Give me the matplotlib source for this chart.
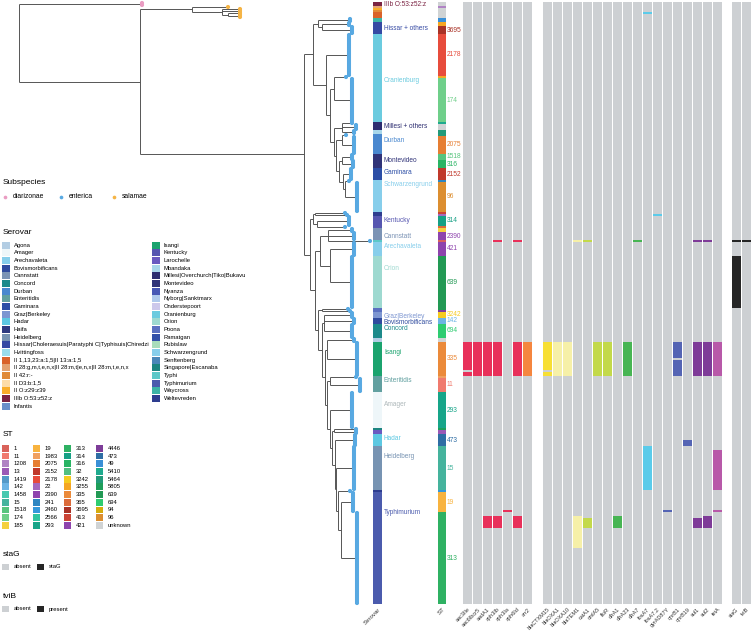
import re
import matplotlib.pyplot as plt
from matplotlib.patches import Rectangle
from matplotlib.collections import LineCollection

plt.rcParams['font.family'] = ['Liberation Sans', 'DejaVu Sans']

# ---------------- data ----------------
HISSAR = "Hissar|Choleraesuis|Paratyphi C|Typhisuis|Chiredzi"
MILLESI = "Millesi|Overchurch|Tiko|Bukavu"
II28 = "II 28:g,m,t,e,n,x|II 28:m,t|e,n,x|II 28:m,t,e,n,x"
II13 = "II 1,13,23:a:1,5|II 13:a:1,5"

# blocks of tips from top to bottom
block_serovar = ["IIIb O:53:z52:z", II28, "II O:z29:z39", "II 42:r:-", II13, II13,
                 "Waycross", HISSAR, HISSAR, "Oranienburg", "Oranienburg", "Oranienburg",
                 MILLESI, MILLESI, "Mbandaka", "Durban", "Durban", "Montevideo", "Montevideo",
                 "Gaminara", "Schwarzengrund", "Schwarzengrund", "Weltevreden", "Weltevreden",
                 "Kentucky", "Kentucky", "Cannstatt", "Cannstatt", "Typhi", "Arechavaleta",
                 "Orion", "Poona", "Poona", "Graz|Berkeley", "Bovismorbificans", "Concord",
                 "Agona", "Isangi", "Enteritidis", "Enteritidis", "Amager", "Singapore|Escanaba",
                 "Larochelle", "Hadar", "Heidelberg", "Weltevreden", "Typhimurium", "Typhimurium"]
block_st = ["unknown", "1208", "unknown", "unknown", "unknown", "unknown",
            "49", "3255", "3695", "2178", "3255", "174",
            "5410", "unknown", "5464", "5464", "2075", "1518", "316",
            "2152", "241", "96", "413", "22",
            "314", "365", "185", "2390", "1", "421",
            "639", "639", "4446", "3242", "142", "694",
            "unknown", "335", "1983", "11", "293", "5805",
            "13", "473", "15", "2460", "19", "313"]
block_size = [2, 1, 1, 1, 1, 2,
              2, 2, 4, 21, 1, 22,
              1, 3, 2, 1, 9, 3, 4,
              6, 1, 15, 1, 1,
              5, 1, 2, 4, 1, 7,
              26, 1, 1, 3, 3, 7,
              2, 17, 1, 7, 18, 1,
              2, 6, 22, 1, 10, 46]
block_subsp = ["diarizonae"] + ["salamae"] * 5 + ["enterica"] * 42

# tree, leaves are the blocks above
tree = """(b0:121,((b1:36,(b2:18,b3:18,(b4:12,b5:10):6):30):52,
((( b6:30,(b7:25,b8:28):4):5,(b9:21,((b10:12,b11:16):4,((b12:10,b13:12,b14:10):8,
((b15:4,b16:10):6,((b17:8,b18:9):3,(b19:6,(b20:4,b21:10):2):4):3):2):4):4):13):9,
(((b22:30,b23:32):2,(b24:30,b25:28):4):3,
(((b26:22,b27:24,b28:42):8,(b29:22,b30:20):10):5,
((b31:26,b32:28):4,((b33:26,b34:28,b35:26):2,((b36:25,b37:28):2,((b38:26,b39:28):3,
(b40:20,((b41:22,b42:20):2,(b43:18,(b44:16,(b45:12,(b46:10,b47:14):3):2):1):3):2):3):2):3):4):3):5):6):164):121);"""

subsp_names = ["diarizonae", "enterica", "salamae"]
subsp_colors = ["#EA9CC2", "#58A9E2", "#F5B445"]

serovar_legend = ["Agona", "Amager", "Arechavaleta", "Bovismorbificans", "Cannstatt", "Concord",
                  "Durban", "Enteritidis", "Gaminara", "Graz|Berkeley", "Hadar", "Haifa",
                  "Heidelberg", HISSAR, "Hvittingfoss", II13, II28, "II 42:r:-", "II D3:b:1,5",
                  "II O:z29:z39", "IIIb O:53:z52:z", "Infantis",
                  "Isangi", "Kentucky", "Larochelle", "Mbandaka", MILLESI, "Montevideo",
                  "Nyanza", "Nyborg|Sanktmarx", "Onderstepoort", "Oranienburg", "Orion", "Poona",
                  "Ramatgan", "Rubislaw", "Schwarzengrund", "Senftenberg", "Singapore|Escanaba",
                  "Typhi", "Typhimurium", "Waycross", "Weltevreden"]
serovar_colors = ["#B3CDE3", "#EEF6F9", "#87CEEB", "#2F4B9E", "#7B93B5", "#1D8A8A",
                  "#4A88CF", "#62A0A0", "#2C4EA6", "#7D96D1", "#5DC8E2", "#2E3A80",
                  "#7793B2", "#3549A3", "#9ADCEB", "#D9622B", "#E3A272", "#E08A3A", "#FDDCA8",
                  "#F9AD2A", "#7B2342", "#6A8FC9",
                  "#1BA36E", "#5656B0", "#6A5AC0", "#A9D7EA", "#2C2D70", "#303378",
                  "#4757B5", "#AFC9EC", "#CCC8EB", "#6BCBDF", "#9ED9D0", "#5A70C0",
                  "#3250A8", "#A8DDBB", "#87CEEB", "#4A86B8", "#1C8480",
                  "#5CC8C8", "#4B5BAD", "#3DB3A6", "#2E3D8F"]

st_legend = ["1", "11", "1208", "13", "1419", "142", "1458", "15", "1518", "174", "185",
             "19", "1983", "2075", "2152", "2178", "22", "2390", "241", "2460", "2566", "293",
             "313", "314", "316", "32", "3242", "3255", "335", "365", "3695", "413", "421",
             "4446", "473", "49", "5410", "5464", "5805", "639", "694", "94", "96", "unknown"]
st_colors = ["#D9625A", "#F07A6E", "#B083C4", "#9B59B6", "#5499C7", "#6CB4E4", "#48C9B0", "#45B39D", "#58C47E", "#6FCF8A", "#F4D03F",
             "#F8B33F", "#F0A060", "#E67E33", "#C0392B", "#E74C3C", "#A569BD", "#8E44AD", "#2E86C1", "#3498DB", "#2EC4A0", "#17A589",
             "#2FB163", "#16A085", "#28B463", "#52BE80", "#F5CB1F", "#F5A623", "#EB8A3A", "#DC6B3A", "#A93226", "#CB4335", "#8E44AD",
             "#7D3C98", "#2E6DA4", "#3A8FD6", "#1FAA8E", "#229A7A", "#1E9E5A", "#229954", "#2ECC71", "#D4AC0D", "#DC8E30", "#D0D3D4"]

serovar_labels = ["IIIb O:53:z52:z", "Hissar + others", "Oranienburg", "Millesi + others", "Durban",
                  "Montevideo", "Gaminara", "Schwarzengrund", "Kentucky", "Cannstatt", "Arechavaleta",
                  "Orion", "Graz|Berkeley", "Bovismorbificans", "Concord", "Isangi", "Enteritidis",
                  "Amager", "Hadar", "Heidelberg", "Typhimurium"]
serovar_label_rows = [0.5, 12.5, 39, 62, 69, 78.5, 84.5, 91, 109, 116.5, 122, 133, 156.5, 159.5,
                      162.5, 174.5, 189, 200.5, 218, 226.5, 254.5]
serovar_label_keys = ["IIIb O:53:z52:z", HISSAR, "Oranienburg", MILLESI, "Durban", "Montevideo",
                      "Gaminara", "Schwarzengrund", "Kentucky", "Cannstatt", "Arechavaleta", "Orion",
                      "Graz|Berkeley", "Bovismorbificans", "Concord", "Isangi", "Enteritidis",
                      "Amager", "Hadar", "Heidelberg", "Typhimurium"]

gene_groups = [["aac3IIe", "aac6Ibcr5", "aadA1", "aph3Ib", "aph3Ia", "aph6Id", "arr2"],
               ["blaCTXM15", "blaOXA1", "blaOXA10", "blaTEM1", "catA1", "cmlA5", "floR",
                "dfrA1", "dfrA23", "dfrA7", "fosA7", "fosA7.2", "gyrAD87Y", "qnrB1", "qnrB19",
                "sul1", "sul2", "tetA"],
               ["staG", "tviB"]]
gene_colors = {"aac3IIe": "#E8305A", "aac6Ibcr5": "#E8305A", "aadA1": "#E8305A", "aph3Ib": "#E8305A",
               "aph3Ia": "#E8305A", "aph6Id": "#E8305A", "arr2": "#F5863F",
               "blaCTXM15": "#F7DF33", "blaOXA1": "#F6F0A8", "blaOXA10": "#F6F0A8", "blaTEM1": "#F6F0A8",
               "catA1": "#C3D94A", "cmlA5": "#C3D94A", "floR": "#C3D94A",
               "dfrA1": "#47B553", "dfrA23": "#47B553", "dfrA7": "#47B553",
               "fosA7": "#5BCBEA", "fosA7.2": "#5BCBEA",
               "gyrAD87Y": "#5464B4", "qnrB1": "#5464B4", "qnrB19": "#5464B4",
               "sul1": "#7E3B98", "sul2": "#7E3B98", "tetA": "#B859A9",
               "staG": "#262626", "tviB": "#262626"}
# gene presence: (first row, number of rows)
gene_hits = {"aac3IIe": [(170, 14), (185, 2)], "aac6Ibcr5": [(170, 17)],
             "aadA1": [(170, 17), (257, 6)], "aph3Ib": [(119, 1), (170, 17), (257, 6)],
             "aph3Ia": [(254, 1)], "aph6Id": [(119, 1), (170, 17), (257, 6)], "arr2": [(170, 17)],
             "blaCTXM15": [(170, 14), (185, 2)], "blaOXA1": [(170, 17)], "blaOXA10": [(170, 17)],
             "blaTEM1": [(119, 1), (257, 16)], "catA1": [(119, 1), (258, 5)],
             "cmlA5": [(170, 17)], "floR": [(170, 17)], "dfrA1": [(257, 6)], "dfrA23": [(170, 17)],
             "dfrA7": [(119, 1)], "fosA7": [(5, 1), (222, 22)], "fosA7.2": [(106, 1)],
             "gyrAD87Y": [(254, 1)], "qnrB1": [(170, 8), (179, 8)], "qnrB19": [(219, 3)],
             "sul1": [(119, 1), (170, 17), (258, 5)], "sul2": [(119, 1), (170, 17), (257, 6)],
             "tetA": [(170, 17), (224, 20), (254, 1)],
             "staG": [(119, 1), (127, 26)], "tviB": [(119, 1)]}

absent_color = "#CDD0D3"
serovar_color = dict(zip(serovar_legend, serovar_colors))
st_color = dict(zip(st_legend, st_colors))
subsp_color = dict(zip(subsp_names, subsp_colors))

# ---------------- tree layout ----------------
def parse_newick(s):
    s = re.sub(r"\s+", "", s).rstrip(";")
    pos = 0

    def node():
        nonlocal pos
        kids = []
        if s[pos] == "(":
            pos += 1
            while True:
                kids.append(node())
                if s[pos] == ",":
                    pos += 1
                else:
                    break
            pos += 1
        name = re.match(r"[^:,()]*", s[pos:]).group(0)
        pos += len(name)
        length = 0.0
        if pos < len(s) and s[pos] == ":":
            m = re.match(r":([0-9.]+)", s[pos:])
            length = float(m.group(1))
            pos += len(m.group(0))
        return {"name": name, "len": length, "kids": kids}

    return node()


row_start = [sum(block_size[:i]) for i in range(len(block_size))]
n_rows = sum(block_size)
tip_len = 2
segs, tips = [], []


def place(nd, xp):
    x = xp + nd["len"]
    if not nd["kids"]:
        b = int(nd["name"][1:])
        ys = list(range(row_start[b], row_start[b] + block_size[b]))
        if len(ys) == 1:
            tips.append((x, ys[0], block_subsp[b]))
        else:
            for yy in ys:
                segs.append([(x, yy), (x + tip_len, yy)])
                tips.append((x + tip_len, yy, block_subsp[b]))
            segs.append([(x, ys[0]), (x, ys[-1])])
        y = (ys[0] + ys[-1]) / 2
    else:
        ys = [place(k, x) for k in nd["kids"]]
        segs.append([(x, min(ys)), (x, max(ys))])
        y = (ys[0] + ys[-1]) / 2
    segs.append([(xp, y), (x, y)])
    return y


place(parse_newick(tree), 0.0)

# ---------------- figure ----------------
fig = plt.figure(figsize=(7.52, 6.32), dpi=100)
ax = fig.add_axes([0, 0, 1, 1])
ax.set_xlim(-19, 733)
ax.set_ylim(314.5, -1.5)
ax.axis("off")

ax.add_collection(LineCollection(segs, colors="#555555", linewidths=0.7, zorder=2))
ax.scatter([t[0] for t in tips], [t[1] for t in tips], s=9,
           c=[subsp_color[t[2]] for t in tips], linewidths=0, zorder=3)

# serovar and ST columns
sero_x, st_x, col_w = 354, 418.5, 8.6
for b in range(len(block_size)):
    r0, n = row_start[b] - 0.5, block_size[b]
    ax.add_patch(Rectangle((sero_x, r0), col_w, n, color=serovar_color[block_serovar[b]], lw=0))
    ax.add_patch(Rectangle((st_x, r0), col_w, n, color=st_color[block_st[b]], lw=0))
    if n >= 3 and block_st[b] != "unknown":
        ax.text(st_x + col_w + 0.8, row_start[b] + (n - 1) / 2, block_st[b], fontsize=4.8,
                color=st_color[block_st[b]], va="center", ha="left")

for txt, r, key in zip(serovar_labels, serovar_label_rows, serovar_label_keys):
    col = serovar_color[key] if key != "Amager" else "#AEB8BA"
    ax.text(sero_x + col_w + 2.4, r, txt, fontsize=4.7, color=col, va="center", ha="left")

# gene heatmap
group_x = [444, 524, 713]
pitch = 10
label_row = n_rows + 1.8
for gx, genes in zip(group_x, gene_groups):
    for j, g in enumerate(genes):
        x0 = gx + j * pitch
        ax.add_patch(Rectangle((x0, -0.5), col_w, n_rows, color=absent_color, lw=0))
        for r0, n in gene_hits[g]:
            ax.add_patch(Rectangle((x0, r0 - 0.5), col_w, n, color=gene_colors[g], lw=0))
        ax.text(x0 + col_w / 2 + 2, label_row, g, fontsize=4.0, rotation=45,
                rotation_mode="anchor", ha="right", va="center", color="#333333")

ax.text(sero_x + col_w / 2 + 2, label_row, "Serovar", fontsize=4.4, rotation=45,
        rotation_mode="anchor", ha="right", va="center", color="#333333")
ax.text(st_x + col_w / 2 + 2, label_row, "ST", fontsize=4.4, rotation=45,
        rotation_mode="anchor", ha="right", va="center", color="#333333")

# ---------------- legends ----------------
lg = fig.add_axes([0, 0, 1, 1])
lg.set_xlim(0, 752)
lg.set_ylim(632, 0)
lg.axis("off")
title_fs, item_fs = 6.0, 4.2

lg.text(3, 182, "Subspecies", fontsize=title_fs, va="center")
for x, name, col in zip([5, 61, 114], subsp_names, subsp_colors):
    lg.scatter([x], [197], s=7, color=col, linewidths=0)
    lg.text(x + 8, 197, name, fontsize=4.9, va="center")

lg.text(3, 232, "Serovar", fontsize=title_fs, va="center")
for k, (name, col) in enumerate(zip(serovar_legend, serovar_colors)):
    c, r = divmod(k, 22)
    x, y = [2, 152][c], 245 + r * 7.67
    lg.add_patch(Rectangle((x, y - 3.5), 7.5, 7, color=col, lw=0))
    lg.text(x + 12, y, name, fontsize=item_fs, va="center")

lg.text(3, 435, "ST", fontsize=title_fs, va="center")
for k, (name, col) in enumerate(zip(st_legend, st_colors)):
    c, r = divmod(k, 11)
    x, y = [2, 33, 64, 96][c], 448.3 + r * 7.7
    lg.add_patch(Rectangle((x, y - 3.4), 6.8, 6.8, color=col, lw=0))
    lg.text(x + 12, y, name, fontsize=item_fs, va="center")

for ty, title, labels in [(554, "staG", ["absent", "staG"]), (596, "tviB", ["absent", "present"])]:
    lg.text(3, ty, title, fontsize=title_fs, va="center")
    for x, lab, col in zip([2, 37], labels, [absent_color, "#262626"]):
        lg.add_patch(Rectangle((x, ty + 13 - 3.4), 6.8, 6.8, color=col, lw=0))
        lg.text(x + 12, ty + 13, lab, fontsize=item_fs, va="center")

fig.savefig("out.png", dpi=100)
